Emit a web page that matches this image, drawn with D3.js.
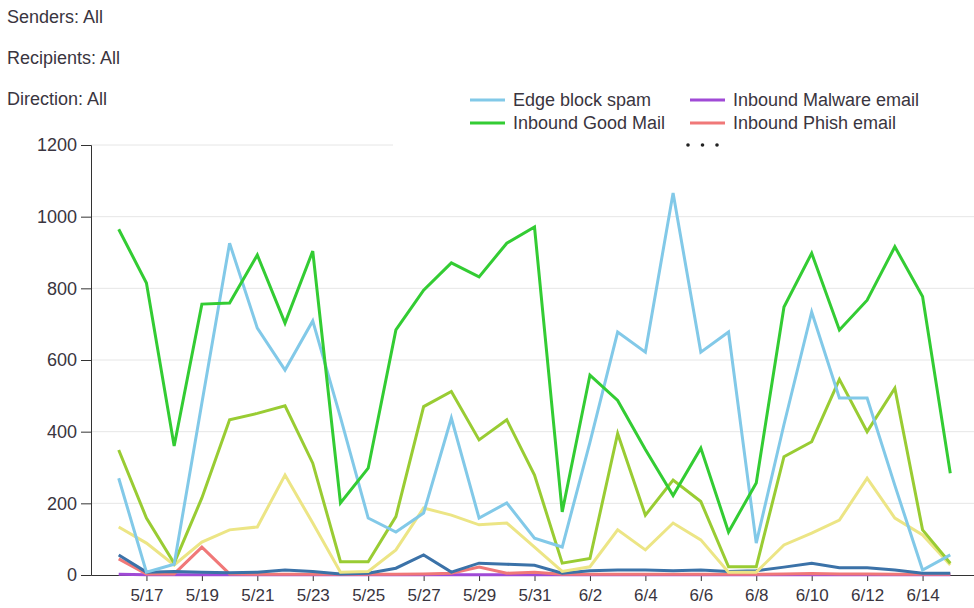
<!DOCTYPE html>
<html>
<head>
<meta charset="utf-8">
<script src="https://cdn.jsdelivr.net/npm/d3@7"></script>
<style>
  body { margin: 0; background: #fff; }
  svg { font-family: "Liberation Sans", Arial, sans-serif; }
  .filter { font-size: 18px; fill: #3a3540; }
  .legend text { font-size: 18px; fill: #3a3540; }
  .axis text { fill: #3a3540; }
  .axis path, .axis line { stroke: #333; }
  .grid line { stroke: #e6e6e6; }
  .line { fill: none; stroke-width: 3; stroke-linejoin: miter; }
</style>
</head>
<body>
<script>
// Filter labels at top
var filters = ["Senders: All", "Recipients: All", "Direction: All"];

// Days shown in the chart
var days = ["5/16","5/17","5/18","5/19","5/20","5/21","5/22","5/23","5/24","5/25",
  "5/26","5/27","5/28","5/29","5/30","5/31","6/1","6/2","6/3","6/4",
  "6/5","6/6","6/7","6/8","6/9","6/10","6/11","6/12","6/13","6/14","6/15"];

// Tick labels
var xTicks = ["5/17","5/19","5/21","5/23","5/25","5/27","5/29","5/31","6/2","6/4",
  "6/6","6/8","6/10","6/12","6/14"];
var yTicks = [0, 200, 400, 600, 800, 1000, 1200];

// Series values
var edgeBlockSpam = [270, 8, 30, 480, 926, 689, 572, 709, 440, 159,
  120, 173, 438, 159, 201, 103, 78, 370, 678, 622,
  1066, 622, 678, 89, 420, 734, 494, 494, 250, 14, 56];
var inboundGoodMail = [965, 815, 360, 756, 759, 893, 703, 904, 201, 298,
  684, 795, 871, 832, 926, 971, 176, 558, 487, 350,
  222, 354, 120, 257, 748, 898, 684, 767, 916, 777, 284];
var inboundMalware = [2, 1, 1, 1, 1, 1, 1, 1, 1, 1,
  1, 1, 1, 1, 1, 1, 1, 1, 1, 1,
  1, 1, 1, 1, 1, 1, 1, 1, 1, 1, 1];
var inboundPhish = [45, 3, 3, 78, 3, 2, 2, 2, 2, 2,
  2, 3, 5, 22, 5, 8, 2, 2, 2, 2,
  2, 2, 2, 2, 3, 4, 3, 3, 2, 2, 2];
var inboundSpam = [349, 159, 33, 215, 433, 451, 472, 312, 37, 37,
  163, 470, 512, 377, 433, 279, 33, 46, 395, 167,
  265, 205, 23, 23, 330, 372, 546, 400, 521, 126, 33];
var outboundGoodMail = [134, 89, 28, 92, 126, 134, 279, 145, 8, 10,
  70, 187, 167, 140, 145, 78, 10, 23, 126, 70,
  145, 98, 8, 8, 84, 117, 153, 270, 159, 112, 28];
var outboundSpam = [56, 8, 10, 8, 6, 8, 14, 10, 3, 5,
  19, 56, 8, 33, 30, 27, 5, 12, 14, 14,
  12, 14, 10, 12, 22, 33, 20, 20, 14, 5, 5];

var series = [
  { name: "Inbound Malware email", values: inboundMalware, color: "#a04ad6" },
  { name: "Inbound Phish email", values: inboundPhish, color: "#f07878" },
  { name: "Outbound Spam email", values: outboundSpam, color: "#3b72a8" },
  { name: "Outbound Good Mail", values: outboundGoodMail, color: "#ece585" },
  { name: "Inbound Spam email", values: inboundSpam, color: "#99cc33" },
  { name: "Edge block spam", values: edgeBlockSpam, color: "#82c9e8" },
  { name: "Inbound Good Mail", values: inboundGoodMail, color: "#33cc33" }
];

var svgWidth = 974;
var svgHeight = 608;

var svg = d3.select("body")
  .append("svg")
  .attr("width", svgWidth)
  .attr("height", svgHeight);

var parseDay = d3.timeParse("%m/%d");
var formatDay = d3.timeFormat("%-m/%-d");

// Scales
var xScale = d3.scaleTime()
  .domain([parseDay("5/15"), parseDay("6/16")])
  .range([91, 978]);

var yScale = d3.scaleLinear()
  .domain([0, 1200])
  .range([575, 145]);

// Gridlines
svg.append("g")
  .attr("class", "grid")
  .selectAll("line")
  .data(yTicks.filter(d => d > 0))
  .enter()
  .append("line")
  .attr("x1", 91)
  .attr("x2", svgWidth)
  .attr("y1", d => yScale(d))
  .attr("y2", d => yScale(d));

// Axes
svg.append("g")
  .attr("class", "axis")
  .attr("transform", "translate(91,0)")
  .call(d3.axisLeft(yScale)
    .tickValues(yTicks)
    .tickFormat(d3.format("d"))
    .tickSize(10)
    .tickPadding(4))
  .call(g => g.selectAll("text").style("font-size", "18px"));

svg.append("g")
  .attr("class", "axis")
  .attr("transform", `translate(0,${yScale(0)})`)
  .call(d3.axisBottom(xScale)
    .tickValues(xTicks.map(parseDay))
    .tickFormat(formatDay)
    .tickSize(6)
    .tickSizeOuter(0)
    .tickPadding(8))
  .call(g => g.selectAll("text").style("font-size", "17px"));

// Lines
var line = d3.line()
  .x((d, i) => xScale(parseDay(days[i])))
  .y(d => yScale(d));

svg.append("g")
  .selectAll("path")
  .data(series)
  .enter()
  .append("path")
  .attr("class", "line")
  .attr("stroke", d => d.color)
  .attr("d", d => line(d.values));

// Filter text
svg.selectAll(".filter")
  .data(filters)
  .enter()
  .append("text")
  .attr("class", "filter")
  .attr("x", 7)
  .attr("y", (d, i) => 23 + i * 41)
  .text(d => d);

// Legend
var legend = svg.append("g").attr("class", "legend");

legend.append("rect")
  .attr("x", 393)
  .attr("y", 84)
  .attr("width", svgWidth - 393)
  .attr("height", 70)
  .attr("fill", "#fff");

var legendItems = [series[5], series[0], series[6], series[1]];

var item = legend.selectAll(".item")
  .data(legendItems)
  .enter()
  .append("g")
  .attr("class", "item")
  .attr("transform", (d, i) => `translate(${i % 2 ? 690 : 470}, ${i < 2 ? 100 : 123})`);

item.append("line")
  .attr("x1", 0)
  .attr("x2", 35)
  .attr("stroke", d => d.color)
  .attr("stroke-width", 3);

item.append("text")
  .attr("x", 43)
  .attr("dy", "0.36em")
  .text(d => d.name);

legend.selectAll("circle")
  .data([0, 1, 2])
  .enter()
  .append("circle")
  .attr("cx", d => 688 + d * 14.5)
  .attr("cy", 145)
  .attr("r", 1.8)
  .attr("fill", "#222");
</script>
</body>
</html>
